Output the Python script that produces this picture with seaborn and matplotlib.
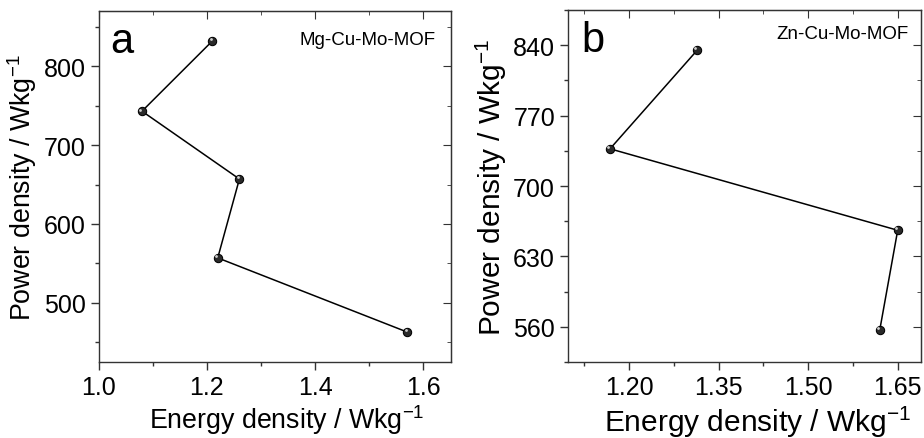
import numpy as np
import pandas as pd
import matplotlib
matplotlib.use('Agg')
import matplotlib.pyplot as plt
import seaborn as sns
from matplotlib.ticker import MultipleLocator

# Data
mg_energy = [1.21, 1.08, 1.26, 1.22, 1.57]
mg_power = [832, 743, 657, 557, 463]
zn_energy = [1.314, 1.168, 1.65, 1.62]
zn_power = [835, 737, 656, 557]

sns.set_style('ticks')
plt.rcParams['font.family'] = ['Liberation Sans', 'DejaVu Sans']
plt.rcParams['mathtext.fontset'] = 'custom'
plt.rcParams['mathtext.rm'] = 'Liberation Sans'
plt.rcParams['mathtext.default'] = 'regular'
plt.rcParams['text.color'] = 'black'
plt.rcParams['axes.labelcolor'] = 'black'

fig = plt.figure(figsize=(9.24, 4.39), dpi=100)
ax1 = fig.add_axes([0.1068, 0.1731, 0.3813, 0.7995])
ax2 = fig.add_axes([0.6150, 0.1731, 0.3814, 0.8018])


def draw(ax, x, y, name, letter, xlim, ylim, xmaj, ymaj, lab_size, name_xy, letter_xy, xlab_xy):
    df = pd.DataFrame({'energy': x, 'power': y})
    sns.lineplot(data=df, x='energy', y='power', sort=False, ax=ax,
                 color='black', linewidth=1.1, marker='o', markersize=6,
                 markerfacecolor='#2a2a2a', markeredgecolor='black')
    # little highlight on the spheres
    ax.plot(np.array(x) - 0.003, np.array(y) + 2.0, 'o', ms=2.0,
            color='#d0d0d0', mec='none', zorder=5)
    ax.set_xlim(*xlim)
    ax.set_ylim(*ylim)
    ax.xaxis.set_major_locator(MultipleLocator(xmaj))
    ax.xaxis.set_minor_locator(MultipleLocator(xmaj / 2))
    ax.yaxis.set_major_locator(MultipleLocator(ymaj))
    ax.yaxis.set_minor_locator(MultipleLocator(ymaj / 2))
    ax.tick_params(which='both', direction='out', top=False, right=False,
                   labelsize=18, color='#333333', labelcolor='black')
    ax.tick_params(which='major', length=6, width=1)
    ax.tick_params(which='minor', length=3, width=1)
    sec_x = ax.secondary_xaxis('top')
    sec_x.xaxis.set_major_locator(MultipleLocator(xmaj))
    sec_x.xaxis.set_minor_locator(MultipleLocator(xmaj / 2))
    sec_x.tick_params(which='both', direction='in', labeltop=False, color='#333333')
    sec_x.tick_params(which='major', length=6)
    sec_x.tick_params(which='minor', length=3)
    sec_y = ax.secondary_yaxis('right')
    sec_y.yaxis.set_major_locator(MultipleLocator(ymaj))
    sec_y.yaxis.set_minor_locator(MultipleLocator(ymaj / 2))
    sec_y.tick_params(which='both', direction='in', labelright=False, color='#333333')
    sec_y.tick_params(which='major', length=6)
    sec_y.tick_params(which='minor', length=3)
    for s in ax.spines.values():
        s.set_color('#333333')
        s.set_linewidth(1)
    ax.set_xlabel('Energy density / Wkg$^{-1}$', fontsize=lab_size)
    ax.xaxis.set_label_coords(*xlab_xy)
    ax.xaxis.label.set_va('top')
    ax.set_ylabel('Power density / Wkg$^{-1}$', fontsize=lab_size, labelpad=3)
    ax.text(letter_xy[0], letter_xy[1], letter, transform=ax.transAxes,
            fontsize=30, va='baseline')
    ax.text(name_xy[0], name_xy[1], name, transform=ax.transAxes,
            fontsize=13.5, ha='right', va='baseline')


draw(ax1, mg_energy, mg_power, 'Mg-Cu-Mo-MOF', 'a', (1.0, 1.651), (425, 870),
     0.2, 100, 19.3, (0.955, 0.906), (0.032, 0.883), (0.535, -0.115))
draw(ax2, zn_energy, zn_power, 'Zn-Cu-Mo-MOF', 'b', (1.098, 1.6885), (525, 875),
     0.15, 70, 21.5, (0.965, 0.92), (0.036, 0.884), (0.537, -0.118))

fig.savefig('out.png', dpi=100)
